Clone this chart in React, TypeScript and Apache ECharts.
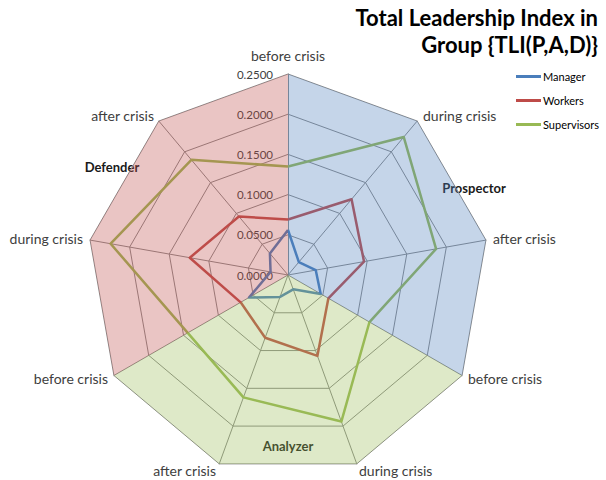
import React, { useEffect, useRef } from 'react';
import * as echarts from 'echarts';

// ---- data (clockwise from top) ----
const AXES = [
  'before crisis', 'during crisis', 'after crisis',
  'before crisis', 'during crisis', 'after crisis',
  'before crisis', 'during crisis', 'after crisis',
];
const GROUPS = ['Prospector', 'Analyzer', 'Defender'];
const GROUP_START = [0, 3, 6];
const SERIES_NAMES = ['Manager', 'Workers', 'Supervisors'];
const MANAGER = [0.056, 0.021, 0.035, 0.047, 0.019, 0.029, 0.056, 0.022, 0.035];
const WORKERS = [0.069, 0.123, 0.096, 0.058, 0.107, 0.083, 0.068, 0.124, 0.095];
const SUPERVISORS = [0.135, 0.224, 0.187, 0.117, 0.194, 0.162, 0.144, 0.224, 0.187];
const TICKS = [0, 0.05, 0.1, 0.15, 0.2, 0.25];
const TITLE_LINES = ['Total Leadership Index in', 'Group {TLI(P,A,D)}'];

// ---- styles / layout ----
const LINE_COLORS = ['#4A7EBB', '#BE4B48', '#98B954'];
const GROUP_COLORS = ['#4F81BD', '#9BBB59', '#C0504D'];
const FONT = 'Lato, "Open Sans", sans-serif';
const NAME_POS: [number, number, string][] = [
  [288, 55, 'center'], [423, 115, 'left'], [493, 238, 'left'],
  [468, 378, 'left'], [359, 470, 'left'], [216, 470, 'right'],
  [108, 378, 'right'], [83, 238, 'right'], [154, 115, 'right'],
];
const GROUP_POS: [number, number][] = [[474, 188], [288, 446], [112, 167]];

// ECharts radar runs counter-clockwise: keep first axis on top, reverse the rest
const toRadar = <T,>(a: T[]): T[] => [a[0], ...a.slice(1).reverse()];

export default function App() {
  const ref = useRef<HTMLDivElement>(null);
  useEffect(() => {
    if (!ref.current) return;
    const chart = echarts.init(ref.current, null, { renderer: 'svg' });
    const maxV = TICKS[TICKS.length - 1];
    const n = AXES.length;

    const indicator = toRadar(AXES).map((name, i) => {
      const ind: any = { name, min: TICKS[0], max: maxV };
      if (i === 0) {
        ind.axisLabel = {
          show: true,
          formatter: (v: number) => v.toFixed(4),
          fontSize: 11.5,
          color: '#404040',
          fontFamily: FONT,
          margin: 15,
        };
      }
      return ind;
    });

    const bgData = GROUPS.map((g, gi) => {
      const vals = AXES.map((_, i) => {
        const d = (i - GROUP_START[gi] + n) % n;
        return d <= 3 ? maxV : 0;
      });
      return {
        name: g,
        value: toRadar(vals),
        areaStyle: { color: GROUP_COLORS[gi], opacity: 0.33 },
        lineStyle: { width: 0, opacity: 0 },
      };
    });

    const seriesVals = [MANAGER, WORKERS, SUPERVISORS];

    const graphics: any[] = [];
    TITLE_LINES.forEach((t, i) => {
      graphics.push({
        type: 'text', x: 598, y: 17 + i * 27,
        style: {
          text: t, fill: '#000', font: `bold 22px ${FONT}`,
          align: 'right', textAlign: 'right', verticalAlign: 'middle', textVerticalAlign: 'middle',
        },
      });
    });
    AXES.forEach((t, i) => {
      const [x, y, al] = NAME_POS[i];
      graphics.push({
        type: 'text', x, y,
        style: {
          text: t, fill: '#404040', font: `14px ${FONT}`,
          align: al, textAlign: al, verticalAlign: 'middle', textVerticalAlign: 'middle',
        },
      });
    });
    GROUPS.forEach((t, i) => {
      const [x, y] = GROUP_POS[i];
      graphics.push({
        type: 'text', x, y,
        style: {
          text: t, fill: '#1a1a1a', font: `bold 13px ${FONT}`,
          align: 'center', textAlign: 'center', verticalAlign: 'middle', textVerticalAlign: 'middle',
        },
      });
    });

    chart.setOption({
      animation: false,
      backgroundColor: '#fff',
      legend: {
        data: SERIES_NAMES,
        orient: 'vertical',
        left: 516,
        top: 71,
        itemGap: 13,
        itemWidth: 25,
        itemHeight: 3,
        icon: 'rect',
        padding: 0,
        textStyle: { fontSize: 11, color: '#000', fontFamily: FONT, padding: [0, 0, 0, -3] },
      },
      radar: {
        center: [288, 275],
        radius: 201,
        startAngle: 90,
        shape: 'polygon',
        splitNumber: TICKS.length - 1,
        indicator,
        axisName: { show: false },
        axisLine: { lineStyle: { color: '#8a8a8a', width: 1 } },
        splitLine: { lineStyle: { color: '#8a8a8a', width: 1 } },
        splitArea: { show: false },
        axisLabel: { show: false },
        axisTick: { show: false },
      },
      series: [
        {
          type: 'radar',
          symbol: 'none',
          data: SERIES_NAMES.map((name, i) => ({
            name,
            value: toRadar(seriesVals[i]),
            itemStyle: { color: LINE_COLORS[i] },
            lineStyle: { color: LINE_COLORS[i], width: 2.5 },
          })),
        },
        {
          type: 'radar',
          symbol: 'none',
          silent: true,
          data: bgData,
        },
      ],
      graphic: graphics,
    });
    return () => chart.dispose();
  }, []);
  return (
    <div
      ref={ref}
      style={{ position: 'fixed', left: 0, top: 0, width: 606, height: 480 }}
    />
  );
}
